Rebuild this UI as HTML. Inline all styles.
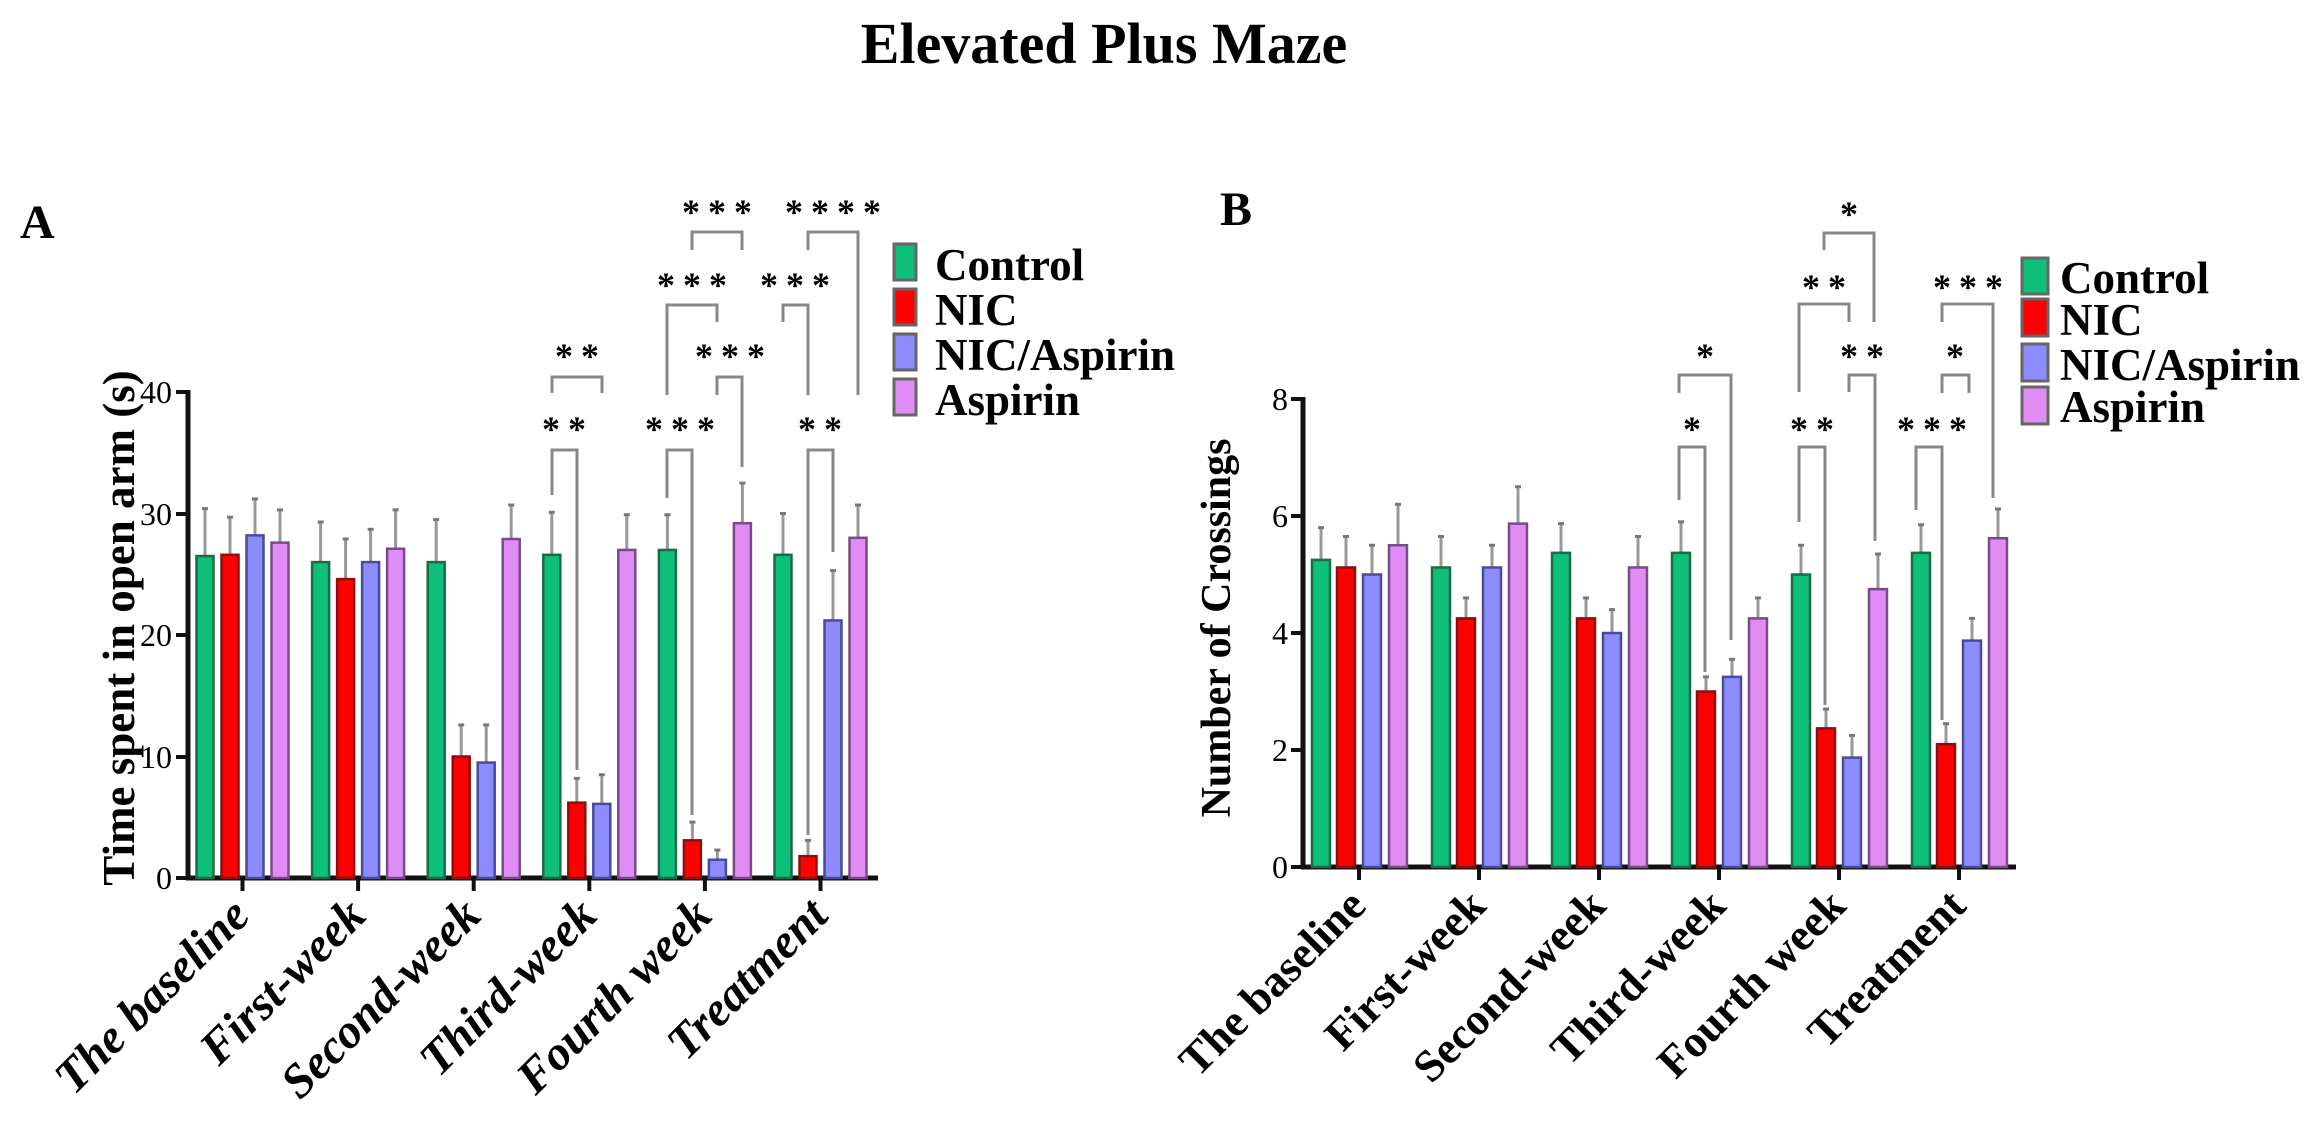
<!DOCTYPE html>
<html><head><meta charset="utf-8"><style>
html,body{margin:0;padding:0;background:#fff;}
svg{display:block;}
text{font-family:"Liberation Serif",serif;font-weight:bold;fill:#000;}
.ast{font-size:36px;letter-spacing:8px;text-anchor:middle;}
.tick{font-size:32px;text-anchor:end;font-weight:normal;}
.leg{font-size:45px;}
.xa{font-size:48px;font-style:italic;text-anchor:end;}
.xb{font-size:45px;text-anchor:end;}
</style></head><body>
<svg id="s" width="2321" height="1137" viewBox="0 0 2321 1137" xmlns="http://www.w3.org/2000/svg">
<text x="1104" y="63" font-size="58" text-anchor="middle">Elevated Plus Maze</text>
<text x="20" y="238" font-size="48">A</text>
<text x="1220" y="225" font-size="48">B</text>

<g stroke="#111" stroke-width="5" fill="none">
<line x1="188" y1="390" x2="188" y2="880"/>
<line x1="186" y1="878" x2="878" y2="878"/>
<line x1="1303" y1="397" x2="1303" y2="869"/>
<line x1="1301" y1="867" x2="2016" y2="867"/>
</g>
<g stroke="#111" stroke-width="4">
<line x1="176" y1="392" x2="188" y2="392"/><line x1="176" y1="514" x2="188" y2="514"/>
<line x1="176" y1="635" x2="188" y2="635"/><line x1="176" y1="757" x2="188" y2="757"/>
<line x1="176" y1="878" x2="188" y2="878"/>
<line x1="1291" y1="399" x2="1303" y2="399"/><line x1="1291" y1="516" x2="1303" y2="516"/>
<line x1="1291" y1="633" x2="1303" y2="633"/><line x1="1291" y1="750" x2="1303" y2="750"/>
<line x1="1291" y1="867" x2="1303" y2="867"/>
</g>
<text class="tick" x="172" y="403">40</text><text class="tick" x="172" y="525">30</text>
<text class="tick" x="172" y="646">20</text><text class="tick" x="172" y="768">10</text>
<text class="tick" x="172" y="889">0</text>
<text class="tick" x="1288" y="410">8</text><text class="tick" x="1288" y="527">6</text>
<text class="tick" x="1288" y="644">4</text><text class="tick" x="1288" y="761">2</text>
<text class="tick" x="1288" y="878">0</text>

<text transform="translate(134,628) rotate(-90)" font-size="45" text-anchor="middle">Time spent in open arm (s)</text>
<text transform="translate(1230,628) rotate(-90)" font-size="42" text-anchor="middle">Number of Crossings</text>

<g id="bars"></g>

<text class="xa" transform="translate(252,918) rotate(-45)">The baseline</text>
<text class="xa" transform="translate(368,918) rotate(-45)">First-week</text>
<text class="xa" transform="translate(483,918) rotate(-45)">Second-week</text>
<text class="xa" transform="translate(599,918) rotate(-45)">Third-week</text>
<text class="xa" transform="translate(714,918) rotate(-45)">Fourth week</text>
<text class="xa" transform="translate(830,918) rotate(-45)">Treatment</text>
<text class="xb" transform="translate(1368,908) rotate(-45)">The baseline</text>
<text class="xb" transform="translate(1488,908) rotate(-45)">First-week</text>
<text class="xb" transform="translate(1608,908) rotate(-45)">Second-week</text>
<text class="xb" transform="translate(1728,908) rotate(-45)">Third-week</text>
<text class="xb" transform="translate(1848,908) rotate(-45)">Fourth week</text>
<text class="xb" transform="translate(1968,908) rotate(-45)">Treatment</text>

<g stroke="#888" stroke-width="3" fill="none">
<polyline points="552,495 552,450 577,450 577,770"/>
<polyline points="552,393 552,377 602,377 602,393"/>
<polyline points="667,498 667,450 692,450 692,815"/>
<polyline points="667,395 667,305 717,305 717,322"/>
<polyline points="717,395 717,377 742,377 742,467"/>
<polyline points="692,250 692,232 742,232 742,250"/>
<polyline points="783,322 783,305 808,305 808,395"/>
<polyline points="808,250 808,232 858,232 858,395"/>
<polyline points="808,835 808,450 833,450 833,552"/>
</g>
<text class="ast" x="568" y="441">**</text>
<text class="ast" x="581" y="368">**</text>
<text class="ast" x="684" y="441">***</text>
<text class="ast" x="696" y="297">***</text>
<text class="ast" x="734" y="368">***</text>
<text class="ast" x="721" y="224">***</text>
<text class="ast" x="799" y="297">***</text>
<text class="ast" x="837" y="224">****</text>
<text class="ast" x="824" y="441">**</text>

<g stroke="#888" stroke-width="3" fill="none">
<polyline points="1679,500 1679,447 1705,447 1705,672"/>
<polyline points="1679,393 1679,375 1731,375 1731,640"/>
<polyline points="1799,522 1799,447 1825,447 1825,705"/>
<polyline points="1799,392 1799,304 1849,304 1849,322"/>
<polyline points="1849,392 1849,375 1875,375 1875,541"/>
<polyline points="1824,250 1824,233 1874,233 1874,322"/>
<polyline points="1916,510 1916,447 1942,447 1942,720"/>
<polyline points="1942,393 1942,375 1969,375 1969,393"/>
<polyline points="1942,322 1942,304 1993,304 1993,498"/>
</g>
<text class="ast" x="1696" y="441">*</text>
<text class="ast" x="1709" y="368">*</text>
<text class="ast" x="1816" y="441">**</text>
<text class="ast" x="1828" y="299">**</text>
<text class="ast" x="1866" y="368">**</text>
<text class="ast" x="1853" y="226">*</text>
<text class="ast" x="1936" y="441">***</text>
<text class="ast" x="1959" y="368">*</text>
<text class="ast" x="1972" y="299">***</text>

<g stroke="#666" stroke-width="3">
<rect x="894" y="244" width="22" height="36" fill="#0dbf78"/>
<rect x="894" y="289" width="22" height="36" fill="#ff0000"/>
<rect x="894" y="334" width="22" height="36" fill="#8c8cff"/>
<rect x="894" y="379" width="22" height="36" fill="#e08cf5"/>
<rect x="2022" y="258" width="26" height="36" fill="#0dbf78"/>
<rect x="2022" y="299" width="26" height="37" fill="#ff0000"/>
<rect x="2022" y="344" width="26" height="37" fill="#8c8cff"/>
<rect x="2022" y="387" width="26" height="37" fill="#e08cf5"/>
</g>
<text class="leg" x="935" y="280">Control</text>
<text class="leg" x="935" y="325">NIC</text>
<text class="leg" x="935" y="370">NIC/Aspirin</text>
<text class="leg" x="935" y="415">Aspirin</text>
<text class="leg" x="2060" y="293">Control</text>
<text class="leg" x="2060" y="335">NIC</text>
<text class="leg" x="2060" y="380">NIC/Aspirin</text>
<text class="leg" x="2060" y="422">Aspirin</text>
</svg>
<script>
(function(){
var ns="http://www.w3.org/2000/svg",g=document.getElementById("bars");
var cols=["#0dbf78","#ff0000","#8c8cff","#e08cf5"],edge=["#1a6b47","#8a1010","#4a4a99","#7a4a88"];
function el(t,a){var e=document.createElementNS(ns,t);for(var k in a)e.setAttribute(k,a[k]);g.appendChild(e);}
function draw(vals,errs,c0,pitch,offs,w,y0,sc){
 for(var i=0;i<6;i++)for(var j=0;j<4;j++){
  var cx=c0+pitch*i+offs[j],v=vals[i][j],e=errs[i][j];
  var yt=y0-v*sc,ye=y0-e*sc;
  el("line",{x1:cx,y1:ye,x2:cx,y2:yt,stroke:"#999","stroke-width":3});
  el("line",{x1:cx-3,y1:ye,x2:cx+3,y2:ye,stroke:"#777","stroke-width":3});
  el("rect",{x:cx-w/2,y:yt,width:w,height:y0-yt,fill:cols[j],stroke:edge[j],"stroke-width":2.5});
 }
 for(var i=0;i<6;i++){var cx=c0+pitch*i;el("line",{x1:cx,y1:y0,x2:cx,y2:y0+13,stroke:"#111","stroke-width":4});}
}
draw([[26.5,26.6,28.2,27.6],[26,24.6,26,27.1],[26,10,9.5,27.9],[26.6,6.2,6.1,27],[27,3.1,1.5,29.2],[26.6,1.8,21.2,28]],
 [[30.4,29.7,31.2,30.3],[29.3,27.9,28.7,30.3],[29.5,12.6,12.6,30.7],[30.1,8.2,8.5,29.9],[29.9,4.6,2.3,32.5],[30,3.1,25.3,30.7]],
 242.5,115.6,[-37.5,-12.5,12.5,37.5],17,878,12.15);
draw([[5.25,5.12,5.0,5.5],[5.12,4.25,5.12,5.87],[5.37,4.25,4.0,5.12],[5.37,3.0,3.25,4.25],[5.0,2.37,1.87,4.75],[5.37,2.1,3.87,5.62]],
 [[5.8,5.65,5.5,6.2],[5.65,4.6,5.5,6.5],[5.87,4.6,4.4,5.65],[5.9,3.25,3.55,4.6],[5.5,2.7,2.25,5.35],[5.85,2.45,4.25,6.12]],
 1359,120,[-38,-13,13,39],18,867,58.5);
})();
</script>
</body></html>
